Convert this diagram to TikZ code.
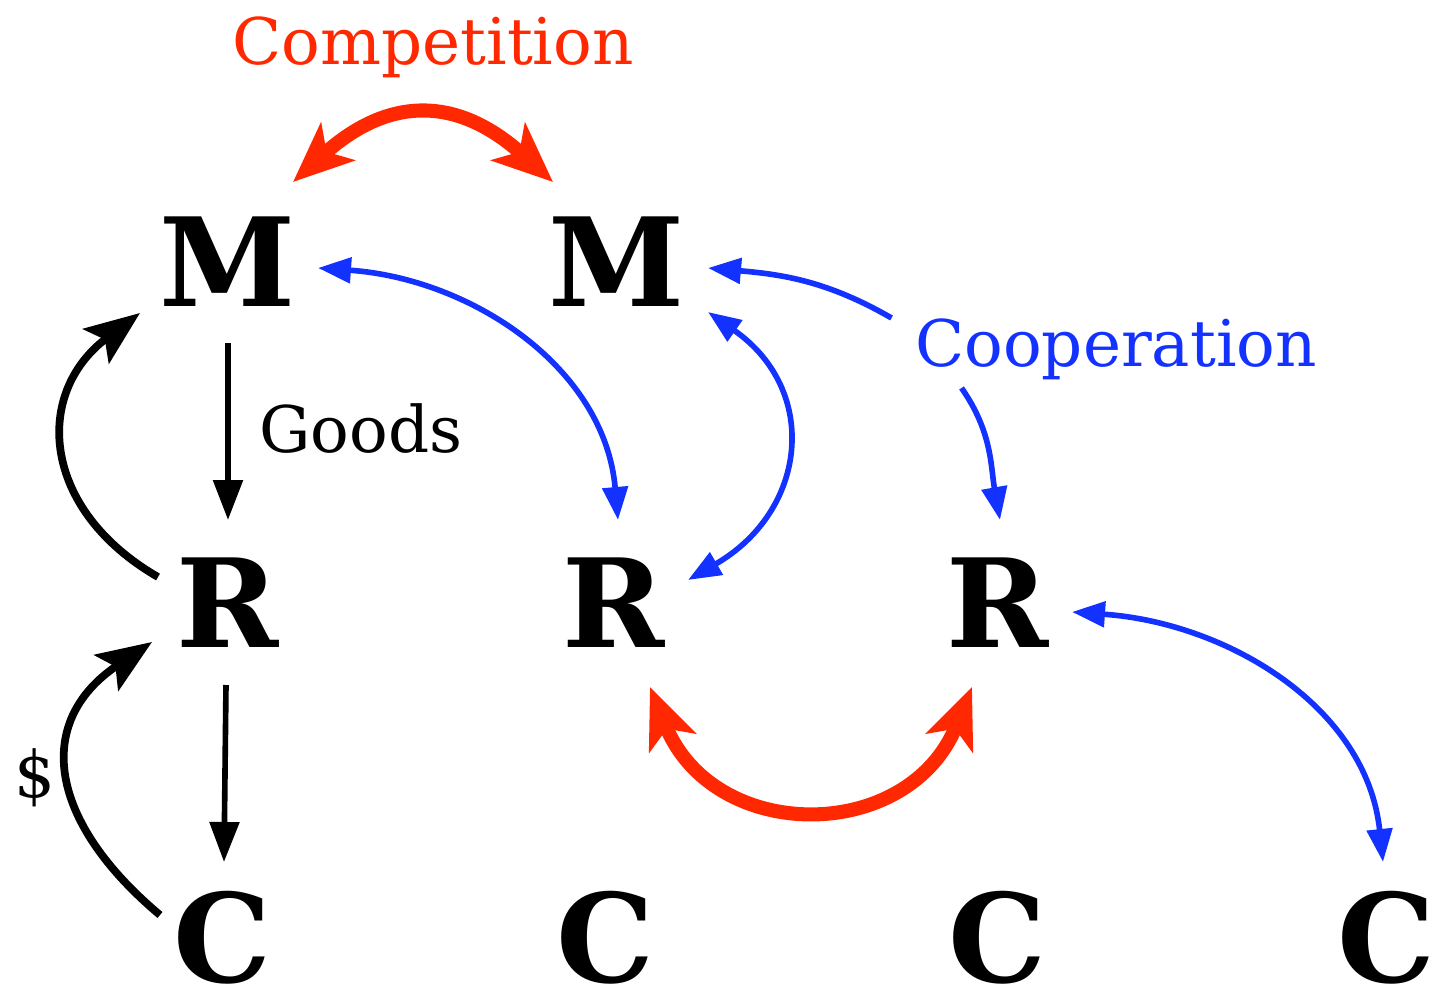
\documentclass[tikz,border=0pt]{standalone}
\usepackage{fontspec}
\setmainfont{DejaVu Serif}
\usepackage{tikz}
\usetikzlibrary{arrows.meta, calc}
\definecolor{myred}{RGB}{255,40,0}
\definecolor{myblue}{RGB}{20,50,255}
\definecolor{mydark}{RGB}{0,0,0}
\tikzset{
  rtip/.tip={Stealth[length=6mm, width=5mm, inset=1.5mm]},
  btip/.tip={Triangle[length=3.3mm, width=2.5mm]},
  ktip/.tip={Triangle[length=4mm, width=2.9mm]},
  ptip/.tip={Stealth[length=5.5mm, width=4.3mm, inset=1.1mm]},
  agent/.style={inner sep=0pt, outer sep=0pt, font=\fontsize{35}{40}\selectfont\bfseries},
  tag/.style={inner sep=0pt, anchor=base, font=\fontsize{18.3}{22}\selectfont},
  flow/.style={-ktip, line width=1.6pt, color=mydark},
  pay/.style={-ptip, line width=2.2pt, color=mydark},
  ally/.style={btip-btip, line width=1.6pt, color=myblue},
  rivalry/.style={rtip-rtip, line width=4pt, color=myred}
}

\begin{document}
\begin{tikzpicture}
  \useasboundingbox (0,0) rectangle (14.31,9.95);

  % Agents: manufacturers, retailers, customers
  \node[agent] (m1) at (2.28,7.33) {M};
  \node[agent] (m2) at (6.17,7.33) {M};
  \node[agent] (r1) at (2.28,3.92) {R};
  \node[agent] (r2) at (6.14,3.92) {R};
  \node[agent] (r3) at (9.98,3.92) {R};
  \node[agent] (c1) at (2.22,0.57) {C};
  \node[agent] (c2) at (6.05,0.57) {C};
  \node[agent] (c3) at (9.97,0.57) {C};
  \node[agent] (c4) at (13.86,0.57) {C};

  % Labels
  \node[tag, color=myred] (comp) at (4.33,9.30) {Competition};
  \node[tag, color=myblue] (coop) at (11.16,6.29) {Cooperation};
  \node[tag] (goods) at (3.61,5.42) {Goods};
  \node[tag, anchor=center] (dollar) at (0.35,2.17) {\$};

  % Goods flow down the chain
  \draw[flow] ([shift={(0,-0.81)}]m1.center) -- ([shift={(0,0.83)}]r1.center);
  \draw[flow] ([shift={(-0.02,-0.82)}]r1.center) -- ([shift={(0.02,0.76)}]c1.center);

  % Money flows back up
  \draw[pay] ([shift={(-0.70,0.26)}]r1.center) to[out=150, in=-143, looseness=1.3] ([shift={(-0.88,-0.51)}]m1.center);
  \draw[pay] ([shift={(-0.62,0.23)}]c1.center) to[out=140, in=-146, looseness=1.35] ([shift={(-0.76,-0.39)}]r1.center);

  % Competition
  \draw[rivalry] ([shift={(0.65,0.80)}]m1.center) to[out=42, in=138, looseness=1.27] ([shift={(-0.64,0.80)}]m2.center);
  \draw[rivalry] ([shift={(0.36,-0.84)}]r2.center) to[out=-68, in=-112, looseness=1.35] ([shift={(-0.26,-0.84)}]r3.center);

  % Cooperation
  \draw[ally] ([shift={(0.90,-0.06)}]m1.center) to[out=-4, in=95] ([shift={(0.04,0.83)}]r2.center);
  \draw[ally] ([shift={(0.74,0.23)}]r2.center) to[out=30, in=-35, looseness=1.31] ([shift={(0.91,-0.50)}]m2.center);
  \draw[ally, -btip] ([shift={(-0.23,0.48)}]coop.base west) to[out=150, in=-5] ([shift={(0.91,-0.06)}]m2.center);
  \draw[ally, -btip] ([shift={(0.47,-0.22)}]coop.base west) to[out=-55, in=100] ([shift={(0.02,0.83)}]r3.center);
  \draw[ally] ([shift={(0.74,-0.09)}]r3.center) to[out=-4, in=96] ([shift={(-0.03,0.76)}]c4.center);
\end{tikzpicture}
\end{document}
